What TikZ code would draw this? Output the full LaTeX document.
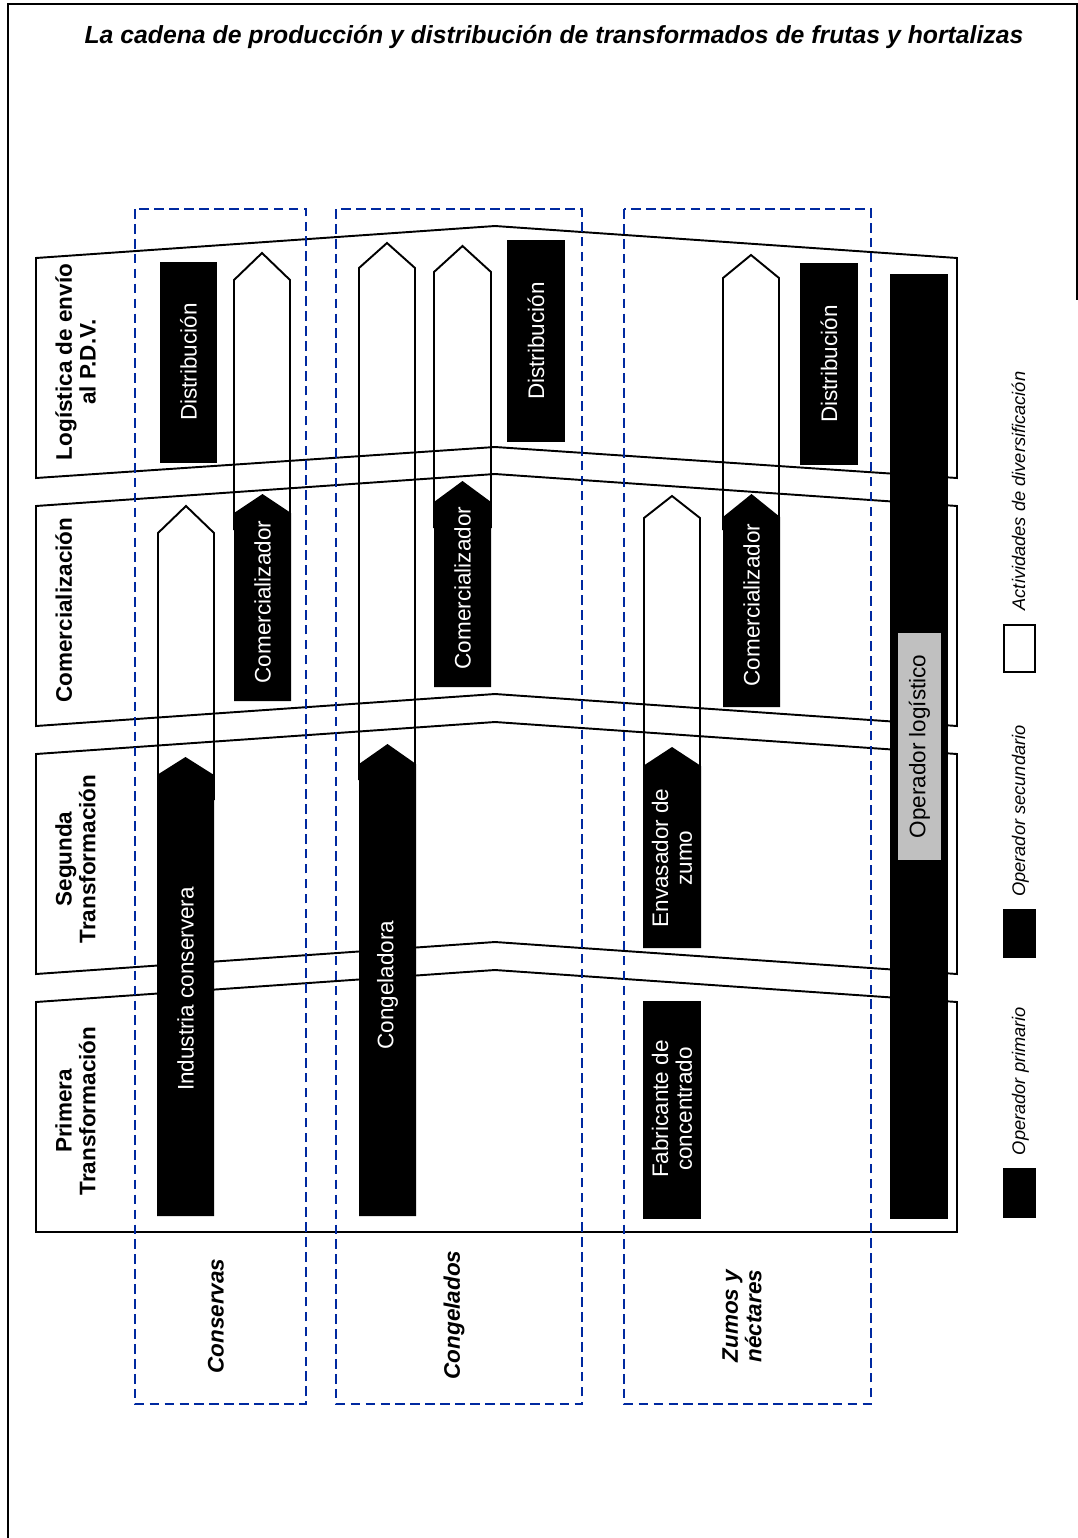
\documentclass[tikz,border=0pt]{standalone}
\usepackage{fontspec}
\setmainfont{Liberation Sans}
\usepackage{tikz}

\definecolor{azulgrupo}{RGB}{0,41,160}
\definecolor{grislog}{RGB}{192,192,192}

% x1, x2, punta, hombro, base
\newcommand{\flechablanca}[5]{%
  \draw[actividad] (#1,#5) -- (#1,#4) -- ({(#1+#2)/2},#3) -- (#2,#4) -- (#2,#5);}
\newcommand{\flechanegra}[5]{%
  \fill[operador] (#1,#5) -- (#1,#4) -- ({(#1+#2)/2},#3) -- (#2,#4) -- (#2,#5) -- cycle;}

\begin{document}
\begin{tikzpicture}[x=0.02cm, y=-0.02cm,
    banda/.style={draw, line width=1.1pt},
    actividad/.style={draw, line width=1.1pt},
    operador/.style={fill=black},
    grupo/.style={draw=azulgrupo, line width=1.6pt, dash pattern=on 5.5pt off 3pt},
    etiqueta/.style={rotate=90, inner sep=0pt, align=center, font=\fontsize{12.8}{13.5}\selectfont\bfseries},
    producto/.style={rotate=90, align=center, font=\fontsize{12.8}{13.5}\selectfont\bfseries\itshape},
    actor/.style={rotate=90, text=white, align=center, font=\fontsize{12.8}{13.5}\selectfont},
    leyenda/.style={rotate=90, inner sep=0pt, font=\fontsize{10.4}{12}\selectfont\itshape},
    muestra/.style={draw, line width=0.8pt}]
\useasboundingbox (0,0) rectangle (1078,1538);
\draw[line width=1.1pt] (8,1538) -- (8,4) -- (1077,4) -- (1077,300);

\node[font=\fontsize{14.1}{16}\selectfont\bfseries\itshape] (titulo) at (554,37)
  {La cadena de producción y distribución de transformados de frutas y hortalizas};

% actividades de diversificacion
\flechablanca{234}{290}{253}{280}{530}
\flechablanca{158}{214}{506}{533}{800}
\flechablanca{359}{415}{243}{268}{780}
\flechablanca{434}{491}{246}{272}{528}
\flechablanca{723}{779}{255}{278}{530}
\flechablanca{644}{700}{496}{518}{768}

% etapas
\draw[banda] (36,258) -- (495,226) -- (957,258) -- (957,478) -- (495,447) -- (36,478) -- cycle;
\draw[banda] (36,506) -- (495,474) -- (957,506) -- (957,726) -- (495,694) -- (36,726) -- cycle;
\draw[banda] (36,754) -- (495,722) -- (957,754) -- (957,974) -- (495,942) -- (36,974) -- cycle;
\draw[banda] (36,1002) -- (495,970) -- (957,1002) -- (957,1232) -- (36,1232) -- cycle;

\node[etiqueta, anchor=north] (logistica) at (55,362) {Logística de envío\\al P.D.V.};
\node[etiqueta, anchor=north] (comercial) at (55,610) {Comercialización};
\node[etiqueta, anchor=north] (segunda) at (55,859) {Segunda\\Transformación};
\node[etiqueta, anchor=north] (primera) at (55,1111) {Primera\\Transformación};

% operadores
\flechanegra{234}{291}{494}{513}{701}
\flechanegra{157}{214}{757}{775}{1216}
\flechanegra{359}{416}{744}{764}{1216}
\flechanegra{434}{491}{481}{502}{687}
\flechanegra{723}{780}{494}{517}{707}
\flechanegra{643}{701}{747}{766}{948}
\fill[operador] (160,262) rectangle (217,463);
\fill[operador] (507,240) rectangle (565,442);
\fill[operador] (800,263) rectangle (858,465);
\fill[operador] (643,1001) rectangle (701,1219);
\fill[operador] (890,274) rectangle (948,1219);
\fill[grislog] (898,633) rectangle (941,860);

\node[actor] (distC) at (188.5,362) {Distribución};
\node[actor] (comC) at (262.5,602) {Comercializador};
\node[actor] (industria) at (185.5,989) {Industria conservera};
\node[actor] (congeladora) at (387.5,985) {Congeladora};
\node[actor] (comCg) at (462.5,588) {Comercializador};
\node[actor] (distCg) at (536,341) {Distribución};
\node[actor] (comZ) at (751.5,605) {Comercializador};
\node[actor] (distZ) at (829,364) {Distribución};
\node[actor] (envasador) at (672,858) {Envasador de\\zumo};
\node[actor] (fabricante) at (672,1109) {Fabricante de\\concentrado};
\node[actor, text=black] (logistico) at (919.5,746.5) {Operador logístico};

% productos
\draw[grupo] (135,209) rectangle (306,1404);
\draw[grupo] (336,209) rectangle (582,1404);
\draw[grupo] (624,209) rectangle (871,1404);
\node[producto] (conservas) at (216,1316) {Conservas};
\node[producto] (congelados) at (454,1315) {Congelados};
\node[producto, align=left] (zumos) at (742,1316) {Zumos y\\néctares};

% leyenda
\draw[muestra, fill=black] (1004,1169) rectangle (1035,1217);
\node[leyenda, anchor=base] (primario) at (1025,1081) {Operador primario};
\draw[muestra, fill=black] (1004,910) rectangle (1035,957);
\node[leyenda, anchor=base] (secundario) at (1025,811) {Operador secundario};
\draw[muestra] (1004,625) rectangle (1035,672);
\node[leyenda, anchor=base] (diversif) at (1025,491) {Actividades de diversificación};
\end{tikzpicture}
\end{document}
